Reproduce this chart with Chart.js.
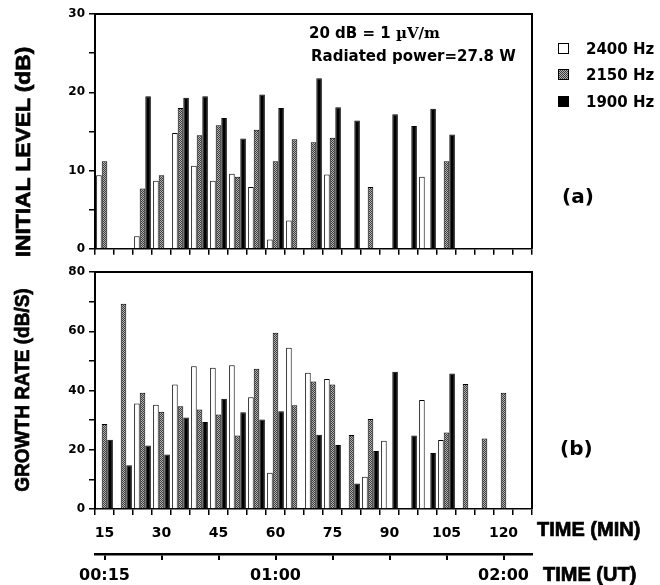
<!DOCTYPE html>
<html>
<head>
<meta charset="utf-8">
<script src="https://cdn.jsdelivr.net/npm/chart.js@4.4.1/dist/chart.umd.min.js"></script>
<style>
  body { margin:0; background:#fff; width:660px; height:585px; position:relative; overflow:hidden; color:#000; }
  canvas { position:absolute; left:0; }
  #cA { top:0; }
  #cB { top:260px; }
  .txt { position:absolute; white-space:nowrap; font-family:"DejaVu Sans", sans-serif; font-weight:bold; line-height:1; }
  .heavy { font-family:"Liberation Sans", Arial, sans-serif; -webkit-text-stroke:0.7px #000; }
  .ytitle { position:absolute; white-space:nowrap; font-family:"Liberation Sans", Arial, sans-serif; font-weight:bold; font-size:20px; line-height:1; -webkit-text-stroke:0.7px #000; }
  .sw { position:absolute; width:9px; height:9px; border:1.5px solid #000; }
</style>
</head>
<body>
<canvas id="cA" width="660" height="260"></canvas>
<canvas id="cB" width="660" height="325"></canvas>

<div class="ytitle" style="left:23px; top:152px; transform:translate(-50%,-50%) rotate(-90deg) scaleX(1.14);">INITIAL LEVEL (dB)</div>
<div class="ytitle" style="left:22px; top:390px; transform:translate(-50%,-50%) rotate(-90deg) scaleX(0.95);">GROWTH RATE (dB/S)</div>

<div class="txt" style="left:309px; top:26px; font-size:15px;">20 dB = 1 <span style="font-family:'DejaVu Serif',serif;">µV/m</span></div>
<div class="txt" style="left:311px; top:49px; font-size:15px;">Radiated power=27.8 W</div>

<div class="sw" style="left:558px; top:43px; background:#fff;"></div>
<div class="sw" id="swGray" style="left:558px; top:69px;"></div>
<div class="sw" style="left:558px; top:96px; background:#000;"></div>
<div class="txt" style="left:586px; top:42px; font-size:15px;">2400 Hz</div>
<div class="txt" style="left:586px; top:68px; font-size:15px;">2150 Hz</div>
<div class="txt" style="left:586px; top:95px; font-size:15px;">1900 Hz</div>

<div class="txt" style="left:562px; top:186px; font-size:20px;">(a)</div>
<div class="txt" style="left:560px; top:438px; font-size:20px;">(b)</div>

<div class="txt heavy" style="left:537px; top:519px; font-size:20px;">TIME (MIN)</div>
<div class="txt heavy" style="left:543px; top:564px; font-size:20px;">TIME (UT)</div>

<script>
// ---- data ----
// 5-minute bins (the last one is empty, it only pads the frame)
const minutes = ['15','20','25','30','35','40','45','50','55','60','65','70',
                 '75','80','85','90','95','100','105','110','115','120','125'];
const minuteLabels = ['15','30','45','60','75','90','105','120'];

// (a) initial level, dB
const level2400 = [9.4, null, 1.6, 8.7, 14.8, 10.6, 8.7, 9.6, 7.9, 1.2, 3.6, null,
                   9.5, null, null, null, null, 9.2, null, null, null, null, null];
const level2150 = [11.2, null, 7.7, 9.4, 18.0, 14.5, 15.8, 9.2, 15.2, 11.2, 14.0, 13.6,
                   14.2, null, 7.9, null, null, null, 11.2, null, null, null, null];
const level1900 = [null, null, 19.5, null, 19.3, 19.5, 16.7, 14.1, 19.7, 18.0, null, 21.8,
                   18.1, 16.4, null, 17.2, 15.7, 17.9, 14.6, null, null, null, null];

// (b) growth rate, dB/s
const growth2400 = [null, null, 35.6, 35.2, 42.0, 48.2, 47.7, 48.5, 37.7, 12.2, 54.4, 46.0,
                    43.9, null, 10.9, 23.0, null, 36.8, 23.3, null, null, null, null];
const growth2150 = [28.7, 69.3, 39.2, 32.8, 34.7, 33.6, 31.9, 24.8, 47.3, 59.5, 35.0, 43.0,
                    42.0, 25.0, 30.4, null, null, null, 25.8, 42.2, 23.8, 39.2, null];
const growth1900 = [23.4, 14.8, 21.4, 18.4, 30.9, 29.4, 37.2, 32.7, 30.2, 33.0, null, 25.1,
                    21.6, 8.6, 19.6, 46.3, 24.8, 18.9, 45.7, null, null, null, null];

// UT axis: tick every 15 min, clock label on three of them
const utTickValues = [15, 30, 45, 60, 75, 90, 105, 120];
const utTickLabels = ['00:15', '', '', '01:00', '', '', '', '02:00'];

// ---- styling helpers ----
function dotPattern() {
  const c = document.createElement('canvas');
  c.width = 2; c.height = 2;
  const g = c.getContext('2d');
  g.fillStyle = '#b4b4b4'; g.fillRect(0, 0, 2, 2);
  g.fillStyle = '#3c3c3c'; g.fillRect(0, 0, 1, 1); g.fillRect(1, 1, 1, 1);
  return g.createPattern(c, 'repeat');
}
const grayFill = dotPattern();
document.getElementById('swGray').style.background =
  'repeating-conic-gradient(#3c3c3c 0 25%, #b4b4b4 0 50%) 0 0 / 2px 2px';

const tickFont = { family: 'DejaVu Sans', weight: 'bold', size: 12 };

const framePlugin = {
  id: 'frame',
  afterDraw(chart) {
    const { ctx, chartArea: a } = chart;
    ctx.save();
    ctx.strokeStyle = '#000';
    ctx.lineWidth = 2;
    ctx.beginPath();
    ctx.moveTo(a.left, a.top);
    ctx.lineTo(a.right, a.top);
    ctx.lineTo(a.right, a.bottom);
    ctx.stroke();
    ctx.restore();
  }
};

function barSets(white, gray, black) {
  const common = { borderColor: '#000', borderWidth: 1, categoryPercentage: 0.88, barPercentage: 1.0 };
  return [
    Object.assign({ label: '2400 Hz', data: white, backgroundColor: '#fff' }, common),
    Object.assign({ label: '2150 Hz', data: gray, backgroundColor: grayFill }, common),
    Object.assign({ label: '1900 Hz', data: black, backgroundColor: '#000' }, common)
  ];
}

function yScale(max, step, labelStep) {
  return {
    min: 0, max: max,
    ticks: { stepSize: step, color: '#000', font: tickFont, padding: 4,
             callback: v => (v % labelStep === 0 ? v : '') },
    grid: { drawOnChartArea: false, tickLength: 6, color: '#000', lineWidth: 1.5 },
    border: { color: '#000', width: 2 },
    afterFit(s) { s.width = 95; }
  };
}

// ---- (a) initial level ----
new Chart(document.getElementById('cA'), {
  type: 'bar',
  data: { labels: minutes, datasets: barSets(level2400, level2150, level1900) },
  options: {
    responsive: false, animation: false,
    layout: { padding: { top: 14, right: 128, left: 0, bottom: 0 } },
    plugins: { legend: { display: false }, tooltip: { enabled: false } },
    scales: {
      x: {
        ticks: { display: false },
        grid: { offset: true, drawOnChartArea: false, tickLength: 6, color: '#000', lineWidth: 1.5 },
        border: { color: '#000', width: 1.5 },
        afterFit(s) { s.height = 10; }
      },
      y: yScale(30, 5, 10)
    }
  },
  plugins: [framePlugin]
});

// ---- (b) growth rate ----
new Chart(document.getElementById('cB'), {
  type: 'bar',
  data: { labels: minutes, datasets: barSets(growth2400, growth2150, growth1900) },
  options: {
    responsive: false, animation: false,
    layout: { padding: { top: 12, right: 128, left: 0, bottom: 0 } },
    plugins: { legend: { display: false }, tooltip: { enabled: false } },
    scales: {
      x: {
        weight: 0,
        ticks: {
          autoSkip: false, maxRotation: 0, color: '#000', padding: 10,
          font: { family: 'DejaVu Sans', weight: 'bold', size: 14 },
          callback(v) {
            const lab = this.getLabelForValue(v);
            return minuteLabels.includes(lab) ? lab : '';
          }
        },
        grid: { offset: true, drawOnChartArea: false, tickLength: 6, color: '#000', lineWidth: 1.5 },
        border: { color: '#000', width: 1.5 },
        afterFit(s) { s.height = 45; }
      },
      x2: {
        type: 'linear', position: 'bottom', weight: 1,
        min: 12.5, max: 127.5, bounds: 'data', offset: false,
        afterBuildTicks(s) { s.ticks = utTickValues.map(v => ({ value: v })); },
        ticks: {
          autoSkip: false, maxRotation: 0, color: '#000', padding: 6,
          font: { family: 'DejaVu Sans', weight: 'bold', size: 16 },
          callback: (v, i) => utTickLabels[i]
        },
        grid: { offset: false, drawOnChartArea: false, tickLength: 6, color: '#000', lineWidth: 2 },
        border: { color: '#000', width: 2.5 },
        afterFit(s) { s.height = 31; }
      },
      y: yScale(80, 10, 20)
    }
  },
  plugins: [framePlugin]
});
</script>
</body>
</html>
